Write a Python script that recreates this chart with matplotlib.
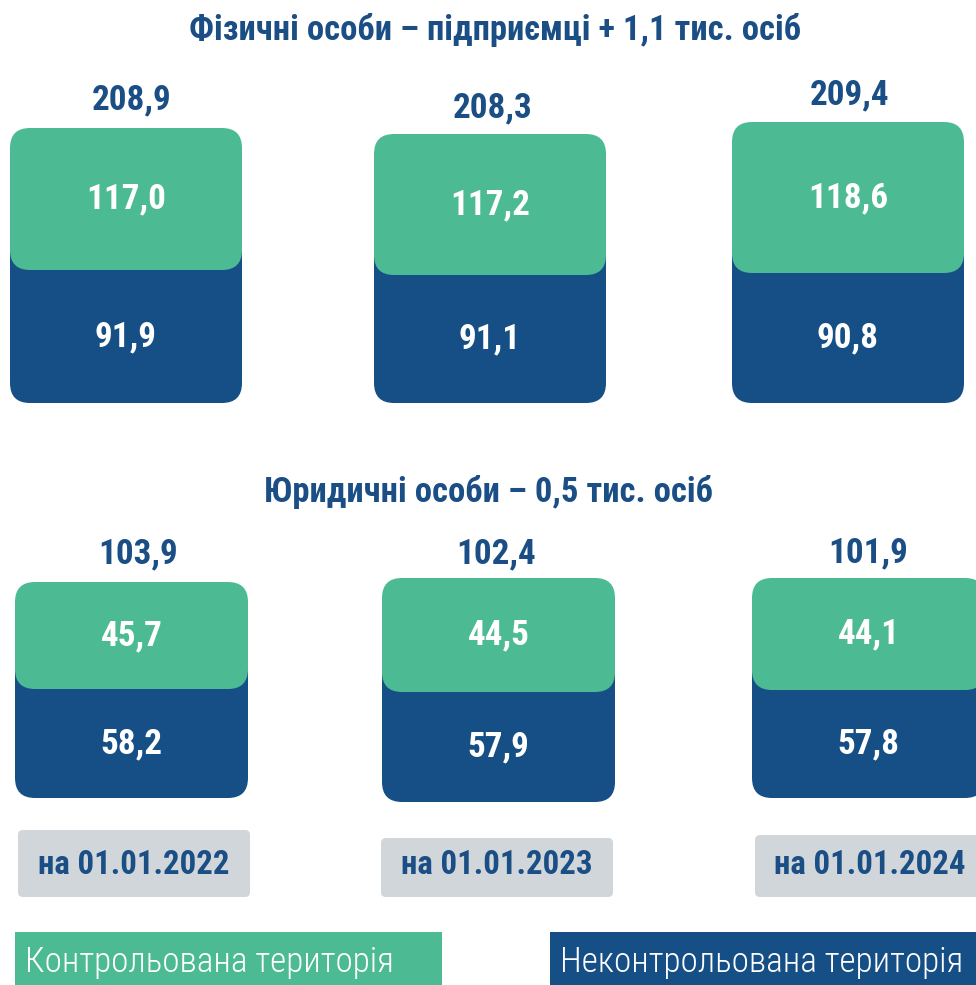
import matplotlib
matplotlib.use("Agg")
import matplotlib.pyplot as plt
from matplotlib import font_manager
from matplotlib.patches import FancyBboxPatch, Rectangle

# --- Data ---
dates = ["на 01.01.2022", "на 01.01.2023", "на 01.01.2024"]
fop_title = "Фізичні особи – підприємці + 1,1 тис. осіб"
fop_total = ["208,9", "208,3", "209,4"]
fop_controlled = ["117,0", "117,2", "118,6"]
fop_uncontrolled = ["91,9", "91,1", "90,8"]
legal_title = "Юридичні особи – 0,5 тис. осіб"
legal_total = ["103,9", "102,4", "101,9"]
legal_controlled = ["45,7", "44,5", "44,1"]
legal_uncontrolled = ["58,2", "57,9", "57,8"]
legend_labels = ["Контрольована територія", "Неконтрольована територія"]

GREEN = "#4cbb94"
BLUE = "#154f85"
NAVY = "#1a4e85"
GRAY = "#d1d6db"

# condensed font if there is one, else Roboto
names = {f.name for f in font_manager.fontManager.ttflist}
candidates = ["Roboto Condensed", "PT Sans Narrow", "Fira Sans Condensed",
              "Barlow Semi Condensed", "Open Sans Condensed", "Liberation Sans Narrow", "Roboto"]
FONT = next((c for c in candidates if c in names), "DejaVu Sans")
plt.rcParams["font.family"] = [FONT, "DejaVu Sans"]

W, H = 976, 985
fig = plt.figure(figsize=(W / 100, H / 100), dpi=100)
ax = fig.add_axes([0, 0, 1, 1])
ax.set_xlim(0, W)
ax.set_ylim(H, 0)
ax.axis("off")
renderer = fig.canvas.get_renderer()


def fit_size(s, width, weight="bold", max_size=40):
    # font size so that s is about `width` pixels wide
    t = ax.text(0, 0, s, fontsize=20, fontweight=weight)
    w = t.get_window_extent(renderer).width
    t.remove()
    return min(max_size, 20 * width / w)


NUM_FS = fit_size("208,9", 80, max_size=30)
TITLE_FS = fit_size(fop_title, 610, max_size=28)
DATE_FS = fit_size(dates[0], 192, max_size=28)
LEG_FS = fit_size(legend_labels[0], 370, weight="light", max_size=28)


def card(x, y0, y1, color, w, r=20):
    ax.add_patch(FancyBboxPatch((x, y0), w, y1 - y0,
                                boxstyle=f"round,pad=0,rounding_size={r}",
                                fc=color, ec="none"))


def block(lefts, width, g_top, g_bot, b_bot, tot_x, tot_y, totals, ctrl, unctrl):
    for i in range(3):
        x = lefts[i]
        cx = x + width / 2
        card(x, g_bot[i] - 50, b_bot[i], BLUE, width)
        card(x, g_top[i], g_bot[i], GREEN, width)
        ax.text(tot_x[i], tot_y[i], totals[i], ha="center", va="center",
                fontsize=NUM_FS, fontweight="bold", color=NAVY)
        ax.text(cx, (g_top[i] + g_bot[i]) / 2, ctrl[i], ha="center", va="center",
                fontsize=NUM_FS, fontweight="bold", color="white")
        ax.text(cx, (g_bot[i] + b_bot[i]) / 2, unctrl[i], ha="center", va="center",
                fontsize=NUM_FS, fontweight="bold", color="white")


# top block: individual entrepreneurs
ax.text(495, 30, fop_title, ha="center", va="center", fontsize=TITLE_FS,
        fontweight="bold", color=NAVY)
block([10, 374, 732], 232, [128, 134, 122], [270, 275, 273], [403, 403, 403],
      [132, 493, 850], [100, 108, 95], fop_total, fop_controlled, fop_uncontrolled)

# bottom block: legal entities
ax.text(488, 492, legal_title, ha="center", va="center", fontsize=TITLE_FS,
        fontweight="bold", color=NAVY)
block([15, 382, 752], 233, [582, 578, 578], [689, 692, 690], [798, 802, 798],
      [138, 496, 868], [554, 554, 553], legal_total, legal_controlled, legal_uncontrolled)

# date tags
date_boxes = [(18, 830, 232), (381, 838, 232), (755, 835, 232)]
date_x = [134, 497, 870]
for (x, y, w), cx, d in zip(date_boxes, date_x, dates):
    card(x, y, 897, GRAY, w, r=5)
    ax.text(cx, 865, d, ha="center", va="center",
            fontsize=DATE_FS, fontweight="bold", color=NAVY)

# legend
ax.add_patch(Rectangle((15, 932), 427, 60, fc=GREEN, ec="none"))
ax.add_patch(Rectangle((550, 932), 440, 60, fc=BLUE, ec="none"))
ax.text(25, 962, legend_labels[0], ha="left", va="center", fontsize=LEG_FS,
        fontweight="light", color="white")
ax.text(560, 962, legend_labels[1], ha="left", va="center", fontsize=LEG_FS,
        fontweight="light", color="white")

fig.savefig("out.png", dpi=100)
